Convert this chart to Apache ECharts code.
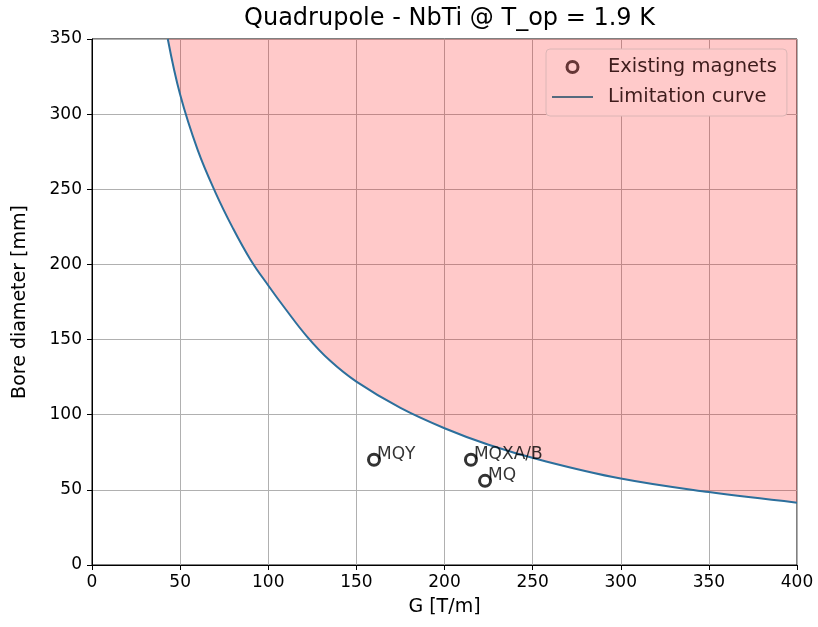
<!DOCTYPE html>
<html>
<head>
<meta charset="utf-8">
<script src="https://cdn.jsdelivr.net/npm/echarts@6/dist/echarts.min.js"></script>
<style>
  html, body { margin: 0; padding: 0; background: #fff; }
  #chart { width: 818px; height: 627px; }
</style>
</head>
<body>
<div id="chart"></div>
<script>
// limitation curve
const curveG = [43, 50, 60, 70, 80, 90, 100, 110, 122, 135, 150, 175, 200, 225, 254, 300, 350, 400]
const curveD = [350, 313, 276, 248, 224, 203, 186, 170, 152, 136, 122, 104.5, 91, 80, 70, 57.5, 48.5, 41.5]

// existing magnets
const magnetNames = ['MQY', 'MQXA/B', 'MQ']
const magnetG = [160, 215, 223]
const magnetD = [70, 70, 56]

const font = 'DejaVu Sans'

const chart = echarts.init(document.getElementById('chart'))
chart.setOption({
  animation: false,
  textStyle: { fontFamily: font },
  title: {
    text: 'Quadrupole - NbTi @ T_op = 1.9 K',
    left: 444.5,
    textAlign: 'center',
    top: 2,
    textStyle: { fontFamily: font, fontSize: 24, fontWeight: 'normal', color: '#000' }
  },
  grid: {
    left: 92,
    right: 21,
    top: 39,
    bottom: 62,
    show: true,
    borderColor: '#000',
    borderWidth: 1
  },
  legend: {
    left: 546,
    top: 49,
    orient: 'vertical',
    padding: [7, 10, 8, 6],
    itemGap: 8,
    itemWidth: 41,
    itemHeight: 11,
    backgroundColor: '#ffcaca',
    borderColor: '#dcb6b6',
    borderWidth: 1,
    borderRadius: 4,
    textStyle: { fontFamily: font, fontSize: 19.5, color: '#3e1c1c', lineHeight: 22, padding: [0, 0, 0, 10] },
    data: [
      {
        name: 'Existing magnets',
        icon: 'circle',
        itemStyle: { color: 'transparent', borderColor: '#3e1010', borderWidth: 3 }
      },
      {
        name: 'Limitation curve',
        icon: 'path://M0,0H41V2H0Z',
        itemStyle: { color: '#556a7e' }
      }
    ]
  },
  xAxis: {
    type: 'value',
    min: 0,
    max: 400,
    interval: 50,
    name: 'G [T/m]',
    nameLocation: 'middle',
    nameGap: 33,
    nameTextStyle: { fontFamily: font, fontSize: 19, color: '#000' },
    axisLine: { onZero: false, lineStyle: { color: '#000' } },
    axisTick: { show: true, length: 5, lineStyle: { color: '#000' } },
    axisLabel: { fontFamily: font, fontSize: 17, color: '#000', margin: 9 },
    splitLine: { show: true, lineStyle: { color: '#b0b0b0', width: 1 } }
  },
  yAxis: {
    type: 'value',
    min: 0,
    max: 350,
    interval: 50,
    name: 'Bore diameter [mm]',
    nameLocation: 'middle',
    nameGap: 62,
    nameTextStyle: { fontFamily: font, fontSize: 19, color: '#000' },
    axisLine: { show: true, onZero: false, lineStyle: { color: '#000' } },
    axisTick: { show: true, length: 5, lineStyle: { color: '#000' } },
    axisLabel: { fontFamily: font, fontSize: 17, color: '#000', margin: 10 },
    splitLine: { show: true, lineStyle: { color: '#b0b0b0', width: 1 } }
  },
  series: [
    {
      name: 'Limitation curve',
      type: 'line',
      symbol: 'none',
      smooth: 0.4,
      data: curveG.map(function(g, i) {
        return [g, curveD[i]]
      }),
      lineStyle: { color: '#2c6f9c', width: 2 },
      itemStyle: { color: '#2c6f9c' },
      areaStyle: { origin: 'end', color: 'rgba(255,0,0,0.21)', opacity: 1 },
      z: 2
    },
    {
      name: 'Existing magnets',
      type: 'scatter',
      symbol: 'circle',
      symbolSize: 11,
      itemStyle: { color: 'transparent', borderColor: '#000', borderWidth: 3 },
      label: {
        show: true,
        position: 'right',
        offset: [-9, -5],
        fontFamily: font,
        fontSize: 17,
        color: '#000',
        formatter: function(p) {
          return magnetNames[p.dataIndex]
        }
      },
      data: magnetG.map(function(g, i) {
        return [g, magnetD[i]]
      }),
      z: 3
    }
  ]
})
</script>
</body>
</html>
